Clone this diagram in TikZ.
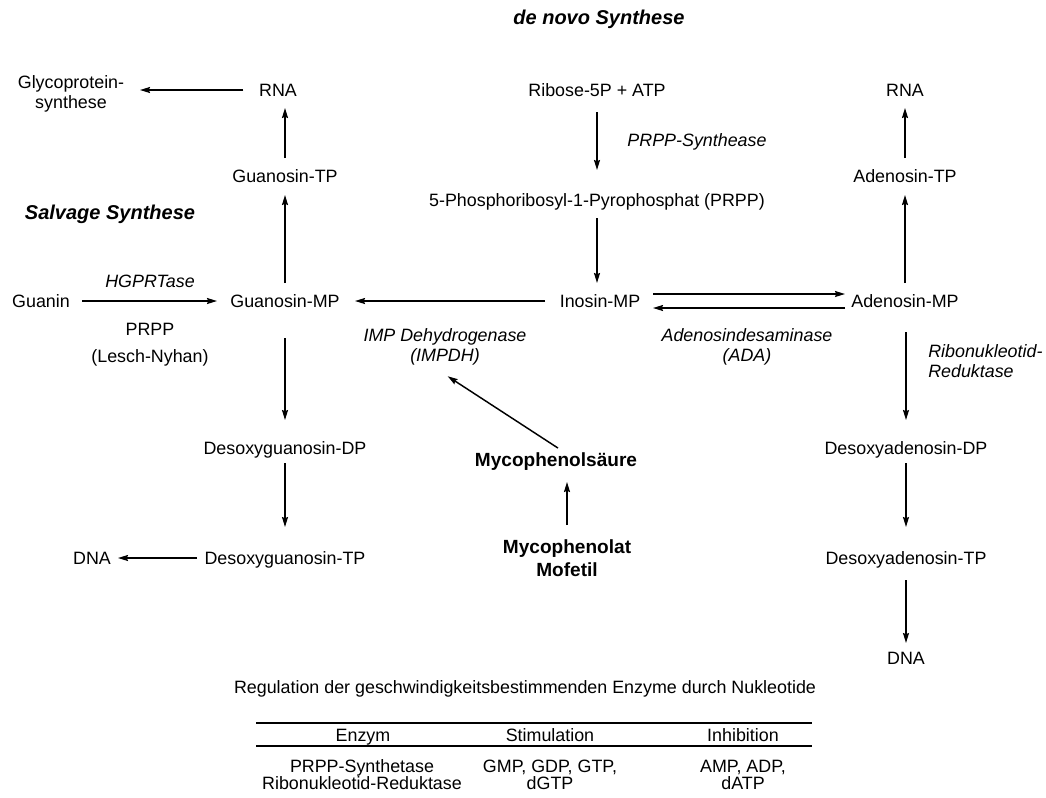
\documentclass[tikz,border=0pt]{standalone}
\usepackage{fontspec}
\setmainfont{Liberation Sans}
\usetikzlibrary{arrows.meta}
\begin{document}
\begin{tikzpicture}[x=0.75pt,y=-0.75pt,
  every node/.style={font=\fontsize{13.4}{15}\selectfont, align=center, inner sep=0pt},
  sl/.style={text height=9.5pt, text depth=0pt},
  lbl/.style={font=\fontsize{13.4}{15}\selectfont\itshape},
  bld/.style={font=\fontsize{14.3}{17.25}\selectfont\bfseries},
  ttl/.style={font=\fontsize{15}{18}\selectfont\bfseries\itshape},
  cell/.style={font=\fontsize{13.4}{12.6}\selectfont},
  arr/.style={line width=1.1pt, -{Stealth[length=7.5pt,width=4.5pt,inset=1pt]}},
  rule/.style={line width=1.6pt}]
\useasboundingbox (0,0) rectangle (1046,797);

% titles
\node[ttl,sl] (denovo) at (599,18) {de novo Synthese};
\node[ttl,sl] (salvage) at (110,213) {Salvage Synthese};

% left column
\node (glyco) at (71,94) {Glycoprotein-\\synthese};
\node[sl] (rnaL) at (278,90) {RNA};
\node[sl] (gtp) at (285,176) {Guanosin-TP};
\node[sl] (gmp) at (285,301) {Guanosin-MP};
\node[sl] (guanin) at (41,301) {Guanin};
\node[lbl,sl] (hgprt) at (150,281) {HGPRTase};
\node[sl] (prppL) at (150,329) {PRPP};
\node[sl] (lesch) at (150,356) {(Lesch-Nyhan)};
\node[sl] (dgdp) at (285,448) {Desoxyguanosin-DP};
\node[sl] (dgtp) at (285,558) {Desoxyguanosin-TP};
\node[sl] (dnaL) at (92,558) {DNA};

% middle column
\node[sl] (ribose) at (597,90) {Ribose-5P + ATP};
\node[lbl,sl] (prppsyn) at (697,140) {PRPP-Synthease};
\node[sl] (prpp) at (597,200) {5-Phosphoribosyl-1-Pyrophosphat (PRPP)};
\node[sl] (imp) at (600,301) {Inosin-MP};
\node[lbl] (impdh) at (445,347) {IMP Dehydrogenase\\(IMPDH)};
\node[lbl] (ada) at (747,347) {Adenosindesaminase\\(ADA)};
\node[bld,sl] (myco) at (556,460) {Mycophenolsäure};
\node[bld] (mmf) at (567,558) {Mycophenolat\\Mofetil};

% right column
\node[sl] (rnaR) at (905,90) {RNA};
\node[sl] (atp) at (905,176) {Adenosin-TP};
\node[sl] (amp) at (905,301) {Adenosin-MP};
\node[lbl, anchor=west, align=left] (rnr) at (928,361) {Ribonukleotid-\\Reduktase};
\node[sl] (dadp) at (906,448) {Desoxyadenosin-DP};
\node[sl] (datp) at (906,558) {Desoxyadenosin-TP};
\node[sl] (dnaR) at (906,658) {DNA};

% connectors left
\draw[arr, shorten <=26pt, shorten >=51.75pt] (rnaL.center) -- (rnaL.center -| glyco.center);
\draw[arr, shorten <=13.5pt, shorten >=13.5pt] (gtp.center) -- (gtp.center |- rnaL.center);
\draw[arr, shorten <=13.5pt, shorten >=14.25pt] (gmp.center) -- (gtp.center);
\draw[arr, shorten <=30.75pt, shorten >=51pt] (guanin.center) -- (gmp.center);
\draw[arr, shorten <=27.75pt, shorten >=21pt] (gmp.center) -- (dgdp.center);
\draw[arr, shorten <=11.25pt, shorten >=23.25pt] (dgdp.center) -- (dgtp.center);
\draw[arr, shorten <=66pt, shorten >=19.5pt] (dgtp.center) -- (dnaL.center);

% connectors middle
\draw[arr, shorten <=16.5pt, shorten >=22.5pt] (ribose.center) -- (prpp.center);
\draw[arr, shorten <=13.5pt, shorten >=13.5pt] (prpp.center) -- (prpp.center |- imp.center);
\draw[arr, shorten <=41.25pt, shorten >=52.5pt] (imp.center) -- (gmp.center);
\draw[arr, shorten <=39.75pt, shorten >=45pt] ([yshift=5.25pt]imp.center) -- ([yshift=5.25pt]amp.center);
\draw[arr, shorten <=45pt, shorten >=39.75pt] ([yshift=-5.25pt]amp.center) -- ([yshift=-5.25pt]imp.center);
\draw[arr] ([xshift=1.5pt,yshift=4pt]myco.north) -- ([xshift=2pt,yshift=-8pt]impdh.south);
\draw[arr, shorten <=24.75pt, shorten >=16.5pt] (mmf.center) -- (mmf.center |- myco.center);

% connectors right
\draw[arr, shorten <=13.5pt, shorten >=14.25pt] (amp.center) -- (atp.center);
\draw[arr, shorten <=13.5pt, shorten >=13.5pt] (atp.center) -- (rnaR.center);
\draw[arr, shorten <=23.25pt, shorten >=21pt] (amp.center -| dadp.center) -- (dadp.center);
\draw[arr, shorten <=11.25pt, shorten >=23.25pt] (dadp.center) -- (datp.center);
\draw[arr, shorten <=16.5pt, shorten >=11.25pt] (datp.center) -- (dnaR.center);

% table
\node[sl] (tabtitle) at (525,687) {Regulation der geschwindigkeitsbestimmenden Enzyme durch Nukleotide};
\coordinate (r1l) at (256,723); \coordinate (r1r) at (812,723);
\coordinate (r2l) at (256,746); \coordinate (r2r) at (812,746);
\draw[rule] (r1l) -- (r1r);
\draw[rule] (r2l) -- (r2r);
\node[sl] (h1) at (363,735) {Enzym};
\node[sl] (h2) at (550,735) {Stimulation};
\node[sl] (h3) at (743,735) {Inhibition};
\node[cell] (c1) at (362,775) {PRPP-Synthetase\\Ribonukleotid-Reduktase};
\node[cell] (c2) at (550,775) {GMP, GDP, GTP,\\dGTP};
\node[cell] (c3) at (743,775) {AMP, ADP,\\dATP};
\end{tikzpicture}
\end{document}
